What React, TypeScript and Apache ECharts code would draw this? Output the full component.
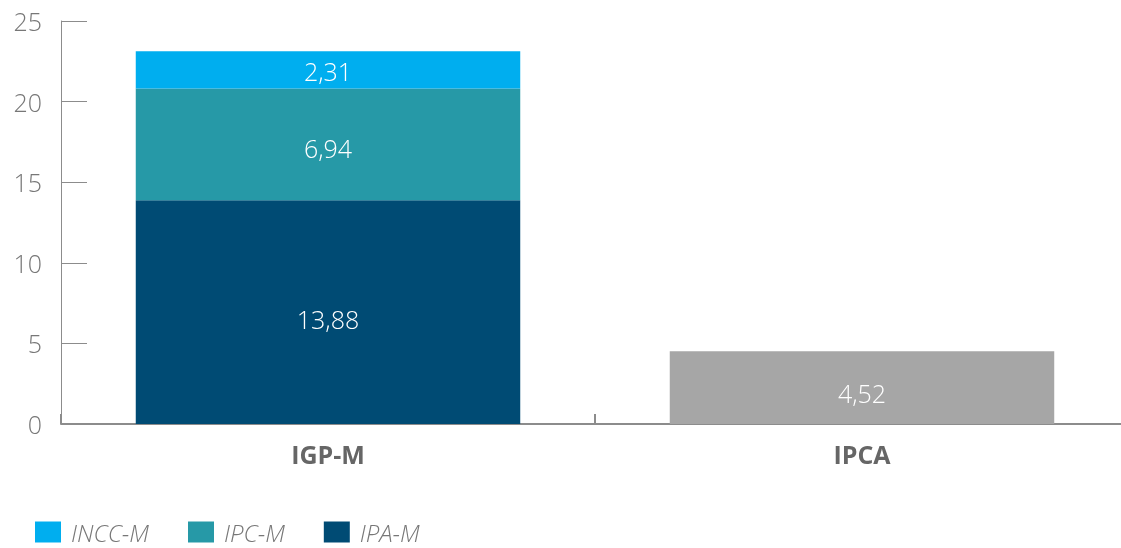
import React, { useEffect, useRef } from "react";
import * as echarts from "echarts";

const categories = ["IGP-M", "IPCA"];
const ipaM = [13.88, "-"];
const ipcM = [6.94, "-"];
const inccM = [2.31, "-"];
const ipca = ["-", 4.52];
const yTicks = { min: 0, max: 25, interval: 5 };

const fmt = (p: any) => String(p.value).replace(".", ",");
const FONT = "Open Sans";

export default function App() {
  const ref = useRef<HTMLDivElement>(null);
  useEffect(() => {
    if (!ref.current) return;
    document.body.style.overflow = "hidden";
    const chart = echarts.init(ref.current, undefined, { renderer: "svg" });
    const label = {
      show: true,
      position: "inside" as const,
      color: "#ffffff",
      fontSize: 25,
      fontFamily: FONT,
      fontWeight: 300,
      offset: [0, 5],
      formatter: fmt,
    };
    chart.setOption({
      animation: false,
      grid: { left: 61, right: 0, top: 21, bottom: 124 },
      legend: {
        left: 30,
        bottom: 4,
        padding: [5, 5, 0, 5],
        itemWidth: 26,
        itemHeight: 21,
        itemGap: 39,
        icon: "rect",
        data: ["INCC-M", "IPC-M", "IPA-M"],
        textStyle: {
          color: "#777777",
          fontSize: 24,
          lineHeight: 24,
          fontStyle: "italic",
          fontFamily: FONT,
          fontWeight: 300,
          padding: [0, 0, 0, 5],
        },
      },
      xAxis: {
        type: "category",
        data: categories,
        axisLine: { lineStyle: { color: "#8c8c8c", width: 2 } },
        axisTick: { show: true, inside: true, length: 10, lineStyle: { color: "#8c8c8c", width: 2 } },
        axisLabel: {
          color: "#666666",
          fontSize: 25,
          fontWeight: "bold",
          fontFamily: FONT,
          margin: 17,
        },
      },
      yAxis: {
        type: "value",
        min: yTicks.min,
        max: yTicks.max,
        interval: yTicks.interval,
        splitLine: { show: false },
        axisLine: { show: true, lineStyle: { color: "#8c8c8c", width: 1 } },
        axisTick: { show: true, inside: true, length: 26, lineStyle: { color: "#8c8c8c" } },
        axisLabel: {
          color: "#777777",
          fontSize: 25,
          fontFamily: FONT,
          fontWeight: 300,
          margin: 19,
        },
      },
      series: [
        { name: "IPA-M", type: "bar", stack: "t", data: ipaM, barWidth: "72%", itemStyle: { color: "#004b74" }, label: { ...label, offset: [0, 7] } },
        { name: "IPC-M", type: "bar", stack: "t", data: ipcM, itemStyle: { color: "#2699a7" }, label: { ...label, offset: [0, 4] } },
        { name: "INCC-M", type: "bar", stack: "t", data: inccM, itemStyle: { color: "#00aeef" }, label: { ...label, offset: [0, 1] } },
        { name: "IPCA", type: "bar", stack: "t", data: ipca, itemStyle: { color: "#a6a6a6" }, label },
      ],
    });
    return () => chart.dispose();
  }, []);
  return (
    <div
      ref={ref}
      style={{ position: "fixed", left: 0, top: 0, width: 1129, height: 548 }}
    />
  );
}
